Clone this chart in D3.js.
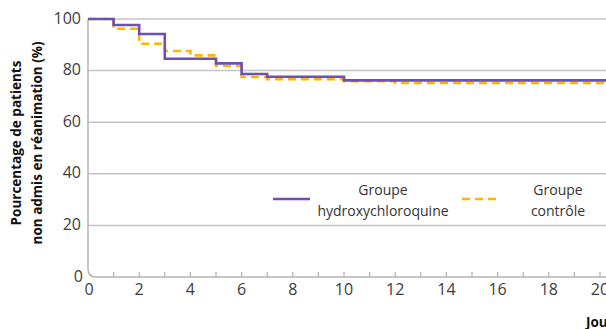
<!DOCTYPE html>
<html><head><meta charset="utf-8">
<script src="https://cdn.jsdelivr.net/npm/d3@7"></script>
<style>html,body{margin:0;padding:0;background:#fff;overflow:hidden}</style>
</head><body><svg id="c" width="606" height="329"></svg>
<script>
const days = [0,1,2,3,4,5,6,7,10,12,22];
const hcq = [100,97.7,94.2,84.6,84.6,82.8,78.7,77.6,76.2,76.2,76.2];
const ctrl = [100,96.2,90.4,87.6,85.9,81.8,77.5,76.7,75.9,75.2,75.2];
const yTicks = [0,20,40,60,80,100];
const xTicks = [0,2,4,6,8,10,12,14,16,18,20];
const legendLabels = [["Groupe","hydroxychloroquine"],["Groupe","contrôle"]];

const svg = d3.select("#c");
const x = d3.scaleLinear().domain([0,20]).range([88,600]);
const y = d3.scaleLinear().domain([0,100]).range([277,19]);
const font = "'Open Sans', 'Noto Sans', sans-serif";

// gridlines
svg.append("g").selectAll("line").data(yTicks.filter(d=>d>0)).join("line")
  .attr("x1",x(0)).attr("x2",620).attr("y1",d=>y(d)).attr("y2",d=>y(d))
  .attr("stroke","#c4c4c4").attr("stroke-width",1.5);

// axis frame with rounded corner
const r = 8;
svg.append("path")
  .attr("d",`M${x(0)},${y(100)} L${x(0)},${y(0)-r} Q${x(0)},${y(0)} ${x(0)+r},${y(0)} L620,${y(0)}`)
  .attr("fill","none").attr("stroke","#b4b4b4").attr("stroke-width",1.5);
// minor ticks
svg.append("g").selectAll("line").data(d3.range(1,21)).join("line")
  .attr("x1",d=>x(d)).attr("x2",d=>x(d)).attr("y1",y(0)).attr("y2",y(0)-5)
  .attr("stroke","#b4b4b4").attr("stroke-width",1.3);

// y tick labels
svg.append("g").selectAll("text").data(yTicks).join("text")
  .attr("x",d=>d===0?83:81).attr("y",d=>y(d)-1).attr("dy","0.35em")
  .attr("text-anchor","end").attr("font-family",font).attr("font-size",16)
  .attr("fill","#3c3c3c").text(d=>d);
// x tick labels
svg.append("g").selectAll("text").data(xTicks).join("text")
  .attr("x",d=>x(d)+(d===0?1:0)).attr("y",295).attr("text-anchor","middle")
  .attr("font-family",font).attr("font-size",16).attr("fill","#3c3c3c").text(d=>d);

// y title
const yt = svg.append("text").attr("transform","translate(0,143) rotate(-90)")
  .attr("text-anchor","middle").attr("font-family","'Open Sans', sans-serif")
  .attr("font-weight","bold").attr("font-size",13.5).attr("fill","#111");
yt.append("tspan").attr("x",0).attr("y",21).text("Pourcentage de patients");
yt.append("tspan").attr("x",0).attr("y",42).text("non admis en réanimation (%)");

// x title (cut off at the edge as in the reference)
svg.append("text").attr("x",586).attr("y",327).attr("font-family","'Open Sans', sans-serif")
  .attr("font-weight","bold").attr("font-size",13.5).attr("fill","#111").text("Jours");

// step lines
const line = d3.line().x(d=>x(d[0])).y(d=>y(d[1])).curve(d3.curveStepAfter);
svg.append("path").datum(days.map((d,i)=>[d,ctrl[i]])).attr("d",line)
  .attr("fill","none").attr("stroke","#ffb400").attr("stroke-width",2.6)
  .attr("stroke-dasharray","8,5");
svg.append("path").datum(days.map((d,i)=>[d,hcq[i]])).attr("d",line)
  .attr("fill","none").attr("stroke","#6e4fb4").attr("stroke-width",2.6);

// legend
const lg = svg.append("g");
lg.append("line").attr("x1",273).attr("x2",310).attr("y1",199).attr("y2",199)
  .attr("stroke","#6e4fb4").attr("stroke-width",2.6);
lg.append("line").attr("x1",462).attr("x2",500).attr("y1",199).attr("y2",199)
  .attr("stroke","#ffb400").attr("stroke-width",2.6).attr("stroke-dasharray","8,5");
[[383,legendLabels[0]],[558,legendLabels[1]]].forEach(([cx,lab])=>{
  const t = lg.append("text").attr("text-anchor","middle").attr("font-family",font)
    .attr("font-size",14).attr("fill","#333");
  t.append("tspan").attr("x",cx).attr("y",195).text(lab[0]);
  t.append("tspan").attr("x",cx).attr("y",216).text(lab[1]);
});
</script></body></html>
